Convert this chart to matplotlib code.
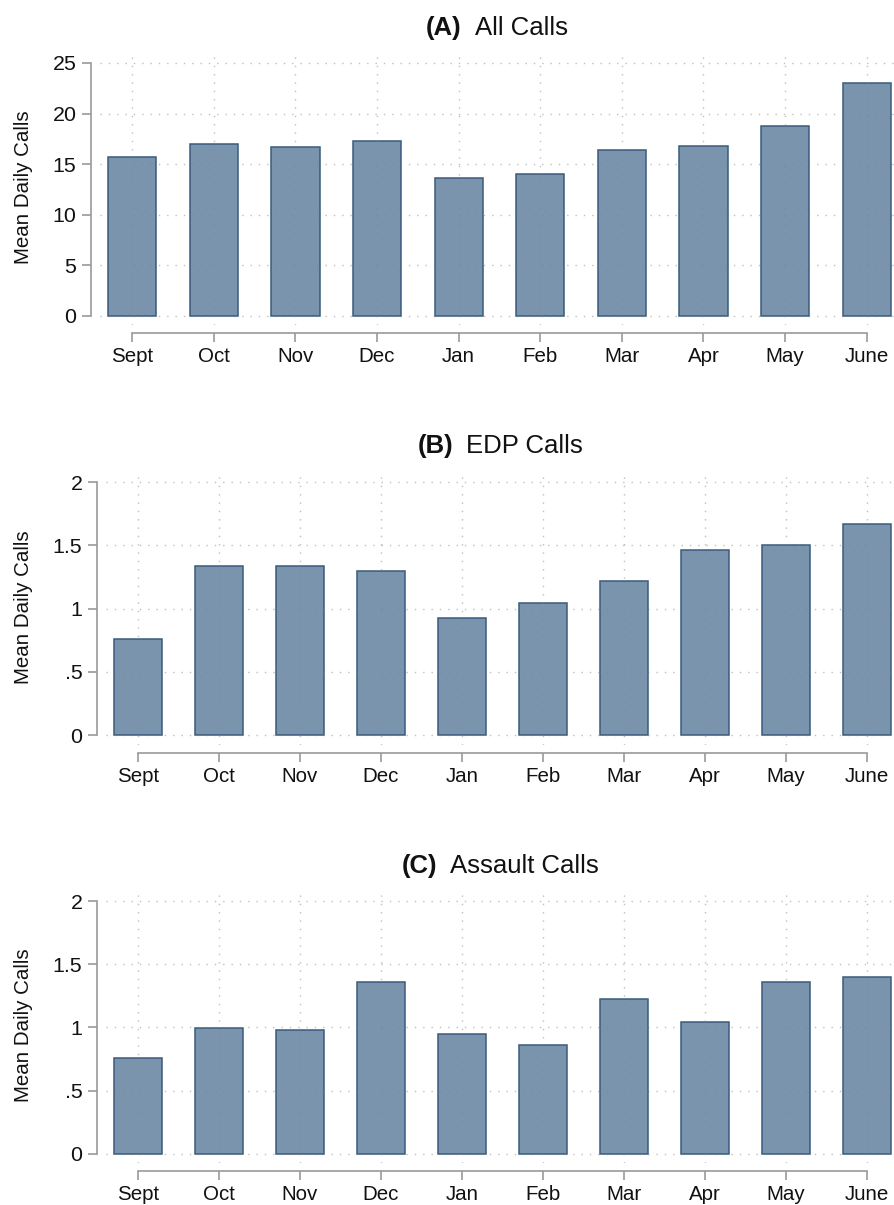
import numpy as np
import matplotlib
matplotlib.use("Agg")
import matplotlib.pyplot as plt

plt.rcParams['font.family'] = ['Liberation Sans', 'DejaVu Sans']

months = ["Sept", "Oct", "Nov", "Dec", "Jan", "Feb", "Mar", "Apr", "May", "June"]

all_calls = [15.7, 17.0, 16.7, 17.3, 13.6, 14.0, 16.4, 16.8, 18.8, 23.0]
edp_calls = [0.76, 1.335, 1.335, 1.30, 0.93, 1.045, 1.22, 1.465, 1.505, 1.665]
assault_calls = [0.756, 0.996, 0.983, 1.363, 0.949, 0.86, 1.224, 1.044, 1.361, 1.40]

panels = [
    ("(A)", "All Calls", all_calls, [0, 5, 10, 15, 20, 25], ["0", "5", "10", "15", "20", "25"]),
    ("(B)", "EDP Calls", edp_calls, [0, 0.5, 1, 1.5, 2], ["0", ".5", "1", "1.5", "2"]),
    ("(C)", "Assault Calls", assault_calls, [0, 0.5, 1, 1.5, 2], ["0", ".5", "1", "1.5", "2"]),
]

W, H = 894, 1205
fig = plt.figure(figsize=(W / 100, H / 100), dpi=100)

# pixel boxes: left, top, bottom, title baseline
boxes = [(100, 50, 325, 35), (106, 470, 745, 453), (106, 888, 1163, 873)]
ylims = [(-0.89, 26.28), (-0.077, 2.095), (-0.074, 2.105)]

fill = "#7b94ad"
edge = "#3b5b7c"
axis_gray = "#9a9a9a"
grid_kw = dict(color="#808080", alpha=0.5, linestyle=(0, (1, 5)), linewidth=1.0)

x = np.arange(len(months))
titles = []
for (tag, name, vals, yt, ytl), (left, top, bottom, base), yl in zip(panels, boxes, ylims):
    ax = fig.add_axes([left / W, (H - bottom) / H, (W - left) / W, (bottom - top) / H])
    ax.bar(x, vals, width=0.59, color=fill, edgecolor=edge, linewidth=1.1, zorder=1)
    ax.set_xlim(-0.395, 9.335)
    ax.set_ylim(*yl)
    ax.set_axisbelow(False)
    ax.grid(True, **grid_kw)

    for s in ["top", "right"]:
        ax.spines[s].set_visible(False)
    ax.spines["left"].set_position(("outward", 6.5))
    ax.spines["left"].set_bounds(yt[0], yt[-1])
    ax.spines["bottom"].set_position(("outward", 5.5))
    ax.spines["bottom"].set_bounds(0, 9)
    for s in ["left", "bottom"]:
        ax.spines[s].set_color(axis_gray)
        ax.spines[s].set_linewidth(1.2)

    ax.set_yticks(yt)
    ax.set_yticklabels(ytl)
    ax.set_xticks(x)
    ax.set_xticklabels(months)
    ax.tick_params(axis="both", colors=axis_gray, labelcolor="#111111",
                   length=6.5, width=1.2)
    ax.tick_params(axis="y", pad=4, labelsize=15.4)
    ax.tick_params(axis="x", pad=4, labelsize=14.8)
    ax.set_ylabel("Mean Daily Calls", fontsize=14.8, color="#111111", labelpad=14)

    cx = (left + W) / 2 / W
    t1 = fig.text(cx, (H - base) / H, tag, fontsize=18.5, fontweight="bold",
                  ha="left", va="baseline", color="#111111")
    t2 = fig.text(cx, (H - base) / H, name, fontsize=18.5,
                  ha="left", va="baseline", color="#111111")
    titles.append((cx, t1, t2))

# center "(X)  Name" as one title over each panel
fig.canvas.draw()
r = fig.canvas.get_renderer()
gap = 13
for cx, t1, t2 in titles:
    w1 = t1.get_window_extent(r).width
    w2 = t2.get_window_extent(r).width
    x0 = cx * W - (w1 + gap + w2) / 2
    t1.set_x(x0 / W)
    t2.set_x((x0 + w1 + gap) / W)

fig.savefig("out.png", dpi=100)
